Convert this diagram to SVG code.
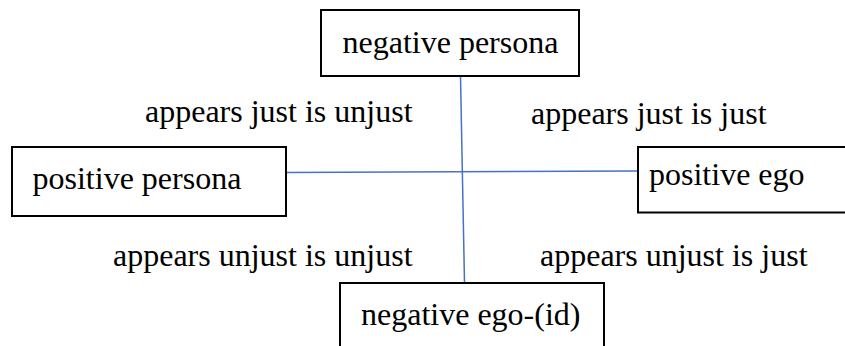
<svg xmlns="http://www.w3.org/2000/svg" width="845" height="346" viewBox="0 0 845 346">
<style>
.box{fill:#fff;stroke:#000;stroke-width:2}
.t{font-family:"Liberation Serif","Times New Roman",serif;font-size:32px;fill:#000}
.c{stroke:#4472C4;stroke-width:1.5;fill:none}
</style>
<rect width="845" height="346" fill="#fff"/>
<g id="connectors">
<line class="c" x1="460.5" y1="76" x2="464.5" y2="283"/>
<line class="c" x1="286" y1="172.5" x2="638" y2="171"/>
</g>
<g id="negative-persona">
<rect class="box" x="321" y="10" width="258" height="66"/>
<text class="t" x="342.5" y="53">negative persona</text>
</g>
<g id="positive-persona">
<rect class="box" x="12" y="147" width="274" height="69"/>
<text class="t" x="32.5" y="189">positive persona</text>
</g>
<g id="positive-ego">
<rect class="box" x="638" y="147" width="220" height="65.5"/>
<text class="t" x="649" y="185">positive ego</text>
</g>
<g id="negative-ego-id">
<rect class="box" x="340" y="283" width="264" height="80"/>
<text class="t" x="361" y="325">negative ego-(id)</text>
</g>
<g id="labels">
<text class="t" x="145" y="122">appears just is unjust</text>
<text class="t" x="531" y="124">appears just is just</text>
<text class="t" x="113" y="266">appears unjust is unjust</text>
<text class="t" x="540" y="266">appears unjust is just</text>
</g>
</svg>
